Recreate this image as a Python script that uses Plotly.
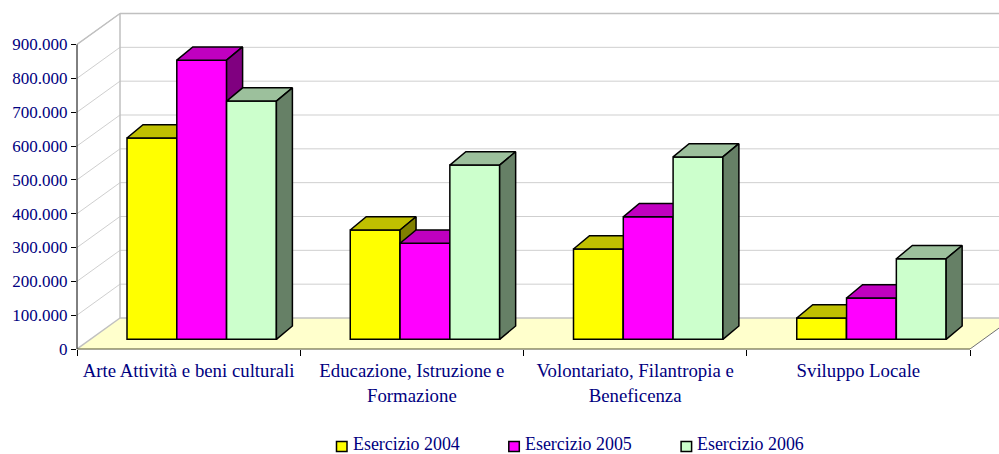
import plotly.graph_objects as go

# ---------- data ----------
cat_line1 = ["Arte Attività e beni culturali", "Educazione, Istruzione e", "Volontariato, Filantropia e", "Sviluppo Locale"]
cat_line2 = ["", "Formazione", "Beneficenza", ""]
series_names = ["Esercizio 2004", "Esercizio 2005", "Esercizio 2006"]
values_2004 = [595000, 323000, 267000, 63000]
values_2005 = [825000, 284000, 362000, 122000]
values_2006 = [704000, 515000, 539000, 238000]
y_tick_vals = [0, 100000, 200000, 300000, 400000, 500000, 600000, 700000, 800000, 900000]
y_tick_text = ["0", "100.000", "200.000", "300.000", "400.000", "500.000", "600.000", "700.000", "800.000", "900.000"]

# ---------- style / projection ----------
W, H = 999, 454
L, B = 77, 105
PX_X = (970 - L) / 4            # px per category
PX_Y = 304.5 / 900000           # px per value unit
X_MAX = (W - L) / PX_X
Y_MAX = (H - B) / PX_Y
NAVY = "#000080"
FONT = "Liberation Serif"
FACES = [("#FFFF00", "#C0C000", "#808000"),
         ("#FF00FF", "#C000C0", "#800080"),
         ("#CCFFCC", "#9CC09C", "#668066")]
WALL_DX, WALL_DY = 43 / PX_X, 31 / PX_Y
BAR_DX, BAR_DY = 16 / PX_X, 13.3 / PX_Y
LIFT = 9.7 / PX_Y
BAR_START, BAR_W = 50 / PX_X, 49.8 / PX_X
centres = [i + 0.5 for i in range(4)]
fig = go.Figure()
no_hover = dict(hoverinfo="skip", showlegend=False)


def paper_x(px):
    return (px - L) / (W - L)


def paper_y(py):
    return ((H - B) - py) / (H - B)


# floor
fig.add_trace(go.Scatter(x=[0, 4, 4 + WALL_DX, WALL_DX, 0], y=[0, 0, WALL_DY, WALL_DY, 0],
                         mode="none", fill="toself", fillcolor="#FFFFCC", **no_hover))
# grid
gx, gy = [], []
for v in y_tick_vals[1:]:
    gx += [0, WALL_DX, 4 + WALL_DX, None]
    gy += [v, v + WALL_DY, v + WALL_DY, None]
fig.add_trace(go.Scatter(x=gx, y=gy, mode="lines", line=dict(color="#CFCFCF", width=1), **no_hover))
top_v = y_tick_vals[-1] + WALL_DY
fig.add_trace(go.Scatter(x=[0, WALL_DX, WALL_DX, None, WALL_DX, 4 + WALL_DX, None, WALL_DX, 4 + WALL_DX, None, 0, WALL_DX],
                         y=[y_tick_vals[-1], top_v, WALL_DY, None, top_v, top_v, None, WALL_DY, WALL_DY, None, 0, WALL_DY],
                         mode="lines", line=dict(color="#C0C0C0", width=1.5), **no_hover))
fig.add_trace(go.Scatter(x=[4, 4 + WALL_DX], y=[0, WALL_DY], mode="lines",
                         line=dict(color="#707070", width=1), **no_hover))

for s, (name, vals) in enumerate(zip(series_names, [values_2004, values_2005, values_2006])):
    ax = str(s + 2)
    front, top, side = FACES[s]
    fig.add_trace(go.Bar(x=centres, y=vals, base=LIFT, width=BAR_W,
                         offset=BAR_START + s * BAR_W - 0.5, name=name, showlegend=False,
                         marker=dict(color=front, line=dict(color="black", width=1.5)),
                         xaxis="x" + ax, yaxis="y" + ax, hoverinfo="skip"))
    tx, ty, sx, sy = [], [], [], []
    for i, v in enumerate(vals):
        x0 = i + BAR_START + s * BAR_W
        x1 = x0 + BAR_W
        t = v + LIFT
        tx += [x0, x1, x1 + BAR_DX, x0 + BAR_DX, x0, None]
        ty += [t, t, t + BAR_DY, t + BAR_DY, t, None]
        sx += [x1, x1 + BAR_DX, x1 + BAR_DX, x1, x1, None]
        sy += [LIFT, LIFT + BAR_DY, t + BAR_DY, t, LIFT, None]
    for px, py, col in [(tx, ty, top), (sx, sy, side)]:
        fig.add_trace(go.Scatter(x=px, y=py, mode="lines", fill="toself", fillcolor=col,
                                 line=dict(color="black", width=1.5),
                                 xaxis="x" + ax, yaxis="y" + ax, **no_hover))

# legend key: swatch + real text, spaced as in the reference
legend_shapes, legend_notes = [], []
for s, name in enumerate(series_names):
    sw_left = 336.5 + s * 172.3
    legend_shapes.append(dict(type="rect", xref="paper", yref="paper",
                              x0=paper_x(sw_left), x1=paper_x(sw_left + 10.5),
                              y0=paper_y(451.5), y1=paper_y(441.5),
                              fillcolor=FACES[s][0], line=dict(color="black", width=1.5), layer="above"))
    legend_notes.append(dict(text=name, xref="paper", yref="paper", showarrow=False,
                             x=paper_x(sw_left + 14), xanchor="left",
                             y=paper_y(444.2), yanchor="middle",
                             font=dict(family=FONT, size=17.9, color=NAVY)))

tick_font = dict(family=FONT, size=17, color=NAVY)
cat_font = dict(family=FONT, size=18.8, color=NAVY)
layout = dict(
    width=W, height=H, autosize=False, paper_bgcolor="white", plot_bgcolor="white",
    margin=dict(l=L, r=0, t=0, b=B, autoexpand=False), barmode="overlay", showlegend=False,
    xaxis=dict(range=[0, X_MAX], tickvals=centres, ticktext=cat_line1, tickfont=cat_font, tickangle=0,
               ticks="outside", ticklen=4, tickcolor="rgba(0,0,0,0)", showgrid=False, zeroline=False,
               showline=False, automargin=False,
               minor=dict(tickvals=[0, 1, 2, 3, 4], ticks="outside", ticklen=6, tickcolor="black", showgrid=False)),
    yaxis=dict(range=[0, Y_MAX], tickvals=y_tick_vals, ticktext=y_tick_text, tickfont=tick_font,
               ticks="outside", ticklen=5, tickcolor="black", showgrid=False, zeroline=False,
               showline=False, automargin=False),
    annotations=legend_notes,
    shapes=[
        dict(type="line", xref="paper", yref="y", x0=0, x1=0, y0=0, y1=y_tick_vals[-1],
             line=dict(color="black", width=1), layer="above"),
        dict(type="line", xref="x", yref="paper", x0=0, x1=4, y0=0, y1=0,
             line=dict(color="#505030", width=1), layer="above"),
    ] + legend_shapes,
)
for n in "234":
    layout["xaxis" + n] = dict(range=[0, X_MAX], overlaying="x", visible=False)
    layout["yaxis" + n] = dict(range=[0, Y_MAX], overlaying="y", visible=False)
# second line of the category labels
layout["xaxis2"] = dict(range=[0, X_MAX], overlaying="x", visible=True, side="bottom", anchor="y",
                        tickvals=centres, ticktext=cat_line2, tickfont=cat_font, tickangle=0,
                        ticks="outside", ticklen=29, tickcolor="rgba(0,0,0,0)",
                        showgrid=False, zeroline=False, showline=False, automargin=False)
fig.update_layout(**layout)
fig.write_html("out.html", config=dict(displayModeBar=False),
               post_script="document.body.style.margin='0';")
